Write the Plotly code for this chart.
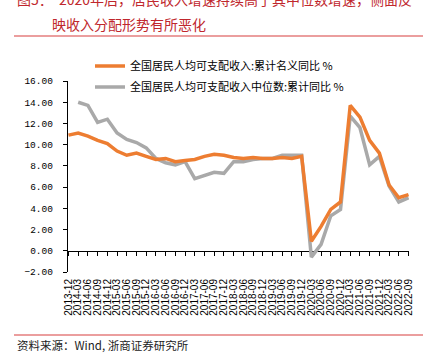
import plotly.graph_objects as go

categories = [f"{y}-{m}" for y in range(2013, 2023) for m in ["03", "06", "09", "12"]]
categories = categories[categories.index("2013-12"):categories.index("2022-09") + 1]

nominal = [10.9, 11.1, 10.8, 10.4, 10.1, 9.4, 9.0, 9.2, 8.9, 8.6, 8.7, 8.4,
           8.5, 8.6, 8.9, 9.1, 9.0, 8.8, 8.7, 8.8, 8.7, 8.7, 8.8, 8.7,
           8.9, 0.9, 2.3, 3.9, 4.6, 13.7, 12.6, 10.4, 9.2, 6.2, 5.0, 5.3]
median = [None, 14.0, 13.7, 12.1, 12.4, 11.1, 10.5, 10.2, 9.7, 8.7, 8.3, 8.1,
          8.4, 6.8, 7.1, 7.4, 7.3, 8.4, 8.4, 8.6, 8.7, 8.7, 9.0, 9.0,
          9.0, -0.6, 0.6, 3.3, 3.9, 12.7, 11.6, 8.1, 8.9, 6.1, 4.6, 5.0]

name_nominal = "全国居民人均可支配收入:累计名义同比 %"
name_median = "全国居民人均可支配收入中位数:累计同比 %"
title_line1 = "图5：  2020年后，居民收入增速持续高于其中位数增速，侧面反"
title_line2 = "映收入分配形势有所恶化"
source_text = "资料来源：Wind, 浙商证券研究所"

W, H = 432, 359
L, R, T, B = 68, 409, 81, 272
pw, ph = R - L, B - T


def px(x):
    return (x - L) / pw


def py(y):
    return (B - y) / ph


red = "#C0272D"
light_red = "#E57E7E"
cjk = "Noto Sans CJK SC"

fig = go.Figure()
fig.add_trace(go.Scatter(x=categories, y=median, name=name_median, mode="lines",
                         line=dict(color="#A9A9A9", width=3.5), legend="legend2"))
fig.add_trace(go.Scatter(x=categories, y=nominal, name=name_nominal, mode="lines",
                         line=dict(color="#ED7D31", width=3.5), legend="legend"))
# invisible helper trace for the zero-crossing axis
fig.add_trace(go.Scatter(x=categories, y=[0] * len(categories), xaxis="x2", mode="lines",
                         line=dict(width=0), showlegend=False, hoverinfo="skip"))

fig.update_layout(
    width=W, height=H,
    margin=dict(l=L, r=W - R, t=T, b=H - B),
    paper_bgcolor="white", plot_bgcolor="white",
    font=dict(family=cjk, color="#000000"),
    xaxis=dict(type="category", range=[-0.05, 35.05], showline=False, showgrid=False,
               zeroline=False, ticks="", tickangle=-90, tickmode="array",
               tickvals=categories, ticktext=categories,
               tickfont=dict(family="Liberation Sans", size=10, color="#000000"),
               ticklabelstandoff=4),
    xaxis2=dict(type="category", overlaying="x", anchor="free", position=2 / 18,
                range=[-0.05, 35.05], showline=True, linecolor="#000000", linewidth=1.3,
                ticks="outside", ticklen=4, tickcolor="#000000", tickwidth=1.2,
                tickmode="array", tickvals=categories, showticklabels=False,
                showgrid=False, zeroline=False, layer="below traces"),
    yaxis=dict(range=[-2, 16], tickvals=[-2, 0, 2, 4, 6, 8, 10, 12, 14, 16],
               tickformat=".2f", showline=True, linecolor="#000000", linewidth=1.3,
               ticks="outside", ticklen=4, tickcolor="#000000", showgrid=False,
               zeroline=False, tickfont=dict(family="Liberation Mono", size=9.5, color="#000000"),
               ticklabelstandoff=8),
    legend=dict(x=px(90), y=py(66), xanchor="left", yanchor="middle",
                bgcolor="rgba(0,0,0,0)", font=dict(family=cjk, size=11, color="#000000")),
    legend2=dict(x=px(90), y=py(87), xanchor="left", yanchor="middle",
                 bgcolor="rgba(0,0,0,0)", font=dict(family=cjk, size=11, color="#000000")),
    showlegend=True,
)

fig.add_annotation(text=title_line1, xref="paper", yref="paper", x=px(15), y=py(-1),
                   xanchor="left", yanchor="middle", showarrow=False,
                   font=dict(family=cjk, size=14, color=red))
fig.add_annotation(text=title_line2, xref="paper", yref="paper", x=px(50), y=py(24),
                   xanchor="left", yanchor="middle", showarrow=False,
                   font=dict(family=cjk, size=14, color=red))
fig.add_annotation(text=source_text, xref="paper", yref="paper", x=px(15), y=py(345),
                   xanchor="left", yanchor="middle", showarrow=False,
                   font=dict(family=cjk, size=11.5, color="#222222"))
fig.add_shape(type="line", xref="paper", yref="paper", x0=px(14), x1=px(423),
              y0=py(36), y1=py(36), line=dict(color=light_red, width=1.5))
fig.add_shape(type="line", xref="paper", yref="paper", x0=px(14), x1=px(423),
              y0=py(335), y1=py(335), line=dict(color=light_red, width=1.5))

fig.write_html("out.html", config={"displayModeBar": False},
               post_script="document.body.style.margin='0';")
